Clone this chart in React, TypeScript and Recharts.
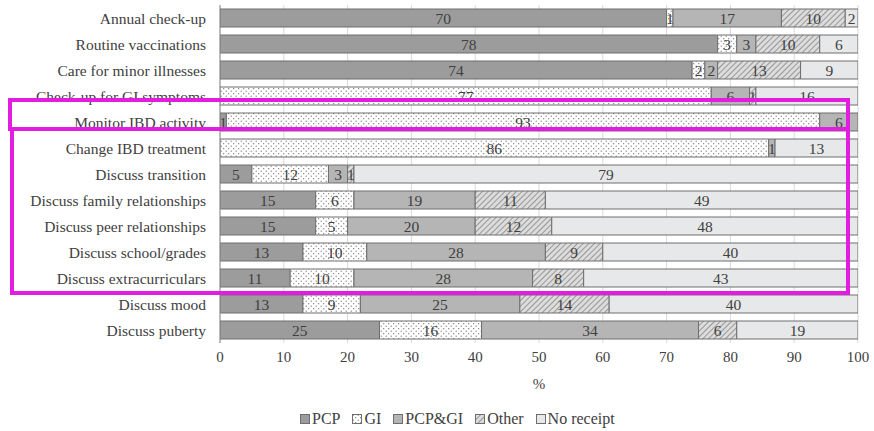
import React from 'react';
import { BarChart, Bar, XAxis, YAxis, CartesianGrid, LabelList } from 'recharts';

const categories = [
  'Annual check-up',
  'Routine vaccinations',
  'Care for minor illnesses',
  'Check-up for GI symptoms',
  'Monitor IBD activity',
  'Change IBD treatment',
  'Discuss transition',
  'Discuss family relationships',
  'Discuss peer relationships',
  'Discuss school/grades',
  'Discuss extracurriculars',
  'Discuss mood',
  'Discuss puberty',
];
const pcp = [70, 78, 74, 0, 1, 0, 5, 15, 15, 13, 11, 13, 25];
const gi = [1, 3, 2, 77, 93, 86, 12, 6, 5, 10, 10, 9, 16];
const pcpGi = [17, 3, 2, 6, 6, 1, 3, 19, 20, 28, 28, 25, 34];
const other = [10, 10, 13, 1, 0, 0, 1, 11, 12, 9, 8, 14, 6];
const noReceipt = [2, 6, 9, 16, 0, 13, 79, 49, 48, 40, 43, 40, 19];
const xTicks = [0, 10, 20, 30, 40, 50, 60, 70, 80, 90, 100];

const data = categories.map((c, i) => ({
  name: c,
  pcp: pcp[i],
  gi: gi[i],
  pcpGi: pcpGi[i],
  other: other[i],
  noReceipt: noReceipt[i],
}));

const FONT = "'Liberation Serif', 'Times New Roman', Tinos, 'DejaVu Serif', serif";
const TEXT = '#404040';
const STROKE = '#6e6e6e';

const series = [
  { key: 'pcp', name: 'PCP', fill: '#9c9c9c' },
  { key: 'gi', name: 'GI', fill: 'url(#dots)' },
  { key: 'pcpGi', name: 'PCP&GI', fill: '#b5b5b5' },
  { key: 'other', name: 'Other', fill: 'url(#hatch)' },
  { key: 'noReceipt', name: 'No receipt', fill: '#e6e8ea' },
];

const Patterns = ({ prefix }: { prefix: string }) => (
  <defs>
    <pattern id={prefix + 'dots'} width="5" height="5" patternUnits="userSpaceOnUse">
      <rect width="5" height="5" fill="#ffffff" />
      <circle cx="1.2" cy="1.2" r="0.6" fill="#6a6a6a" />
      <circle cx="3.7" cy="3.7" r="0.6" fill="#6a6a6a" />
    </pattern>
    <pattern id={prefix + 'hatch'} width="4" height="4" patternUnits="userSpaceOnUse" patternTransform="rotate(45)">
      <rect width="4" height="4" fill="#dcdcdc" />
      <line x1="0" y1="0" x2="0" y2="4" stroke="#7a7a7a" strokeWidth="1.4" />
    </pattern>
  </defs>
);

const renderLabel = (props: any) => {
  const { x, y, width, height, value } = props;
  if (!value) return null;
  return (
    <text
      x={Number(x) + Number(width) / 2}
      y={Number(y) + Number(height) / 2}
      textAnchor="middle"
      dominantBaseline="central"
      style={{ fontFamily: FONT }}
      fontSize={15.5}
      fill={TEXT}
    >
      {value}
    </text>
  );
};

const LegendBox = () => (
  <div
    style={{
      position: 'absolute',
      left: 300,
      top: 410,
      display: 'flex',
      alignItems: 'center',
      fontFamily: FONT,
      fontSize: 16,
      color: TEXT,
      whiteSpace: 'nowrap',
    }}
  >
    {series.map((s) => (
      <div key={s.key} style={{ display: 'flex', alignItems: 'center', marginRight: 12 }}>
        <svg width={10} height={10} style={{ marginRight: 2 }}>
          <Patterns prefix="lg-" />
          <rect
            x={0.5}
            y={0.5}
            width={9}
            height={9}
            fill={s.fill.startsWith('url') ? s.fill.replace('#', '#lg-') : s.fill}
            stroke={STROKE}
          />
        </svg>
        <span>{s.name}</span>
      </div>
    ))}
  </div>
);

const yTick = { fontFamily: FONT, fontSize: 15.5, fill: TEXT, style: { fontFamily: FONT } } as any;
const xTick = { fontFamily: FONT, fontSize: 15, fill: TEXT, style: { fontFamily: FONT } } as any;

export default function App() {
  return (
    <div style={{ position: 'absolute', left: 0, top: 0, width: 874, height: 431, background: '#fff', fontFamily: FONT }}>
      <BarChart
        width={874}
        height={431}
        data={data}
        layout="vertical"
        margin={{ top: 5, right: 16, left: 0, bottom: 40 }}
        barSize={18}
        style={{ fontFamily: FONT }}
      >
        <Patterns prefix="" />
        <CartesianGrid horizontal={false} vertical={true} stroke="#d9d9d9" />
        <XAxis
          type="number"
          domain={[0, 100]}
          ticks={xTicks}
          allowDataOverflow
          axisLine={false}
          tickLine={false}
          tickSize={6}
          tickMargin={2}
          height={48}
          tick={xTick}
          label={{ value: '%', position: 'insideBottom', offset: 2, fontFamily: FONT, fontSize: 15, fill: TEXT, style: { fontFamily: FONT } }}
        />
        <YAxis
          type="category"
          dataKey="name"
          width={220}
          axisLine={{ stroke: '#8a8a8a' }}
          tickLine={false}
          tickSize={6}
          tickMargin={8}
          interval={0}
          tick={yTick}
        />
        {series.map((s) => (
          <Bar
            key={s.key}
            dataKey={s.key}
            name={s.name}
            stackId="a"
            fill={s.fill}
            stroke={STROKE}
            strokeWidth={1}
            isAnimationActive={false}
          >
            <LabelList dataKey={s.key} content={renderLabel} />
          </Bar>
        ))}
      </BarChart>
      <LegendBox />
      <div
        style={{
          position: 'absolute',
          left: 8,
          top: 98,
          width: 842,
          height: 33,
          boxSizing: 'border-box',
          border: '4px solid #e21de0',
          pointerEvents: 'none',
        }}
      />
      <div
        style={{
          position: 'absolute',
          left: 10,
          top: 127,
          width: 840,
          height: 168,
          boxSizing: 'border-box',
          border: '4px solid #e21de0',
          pointerEvents: 'none',
        }}
      />
    </div>
  );
}
